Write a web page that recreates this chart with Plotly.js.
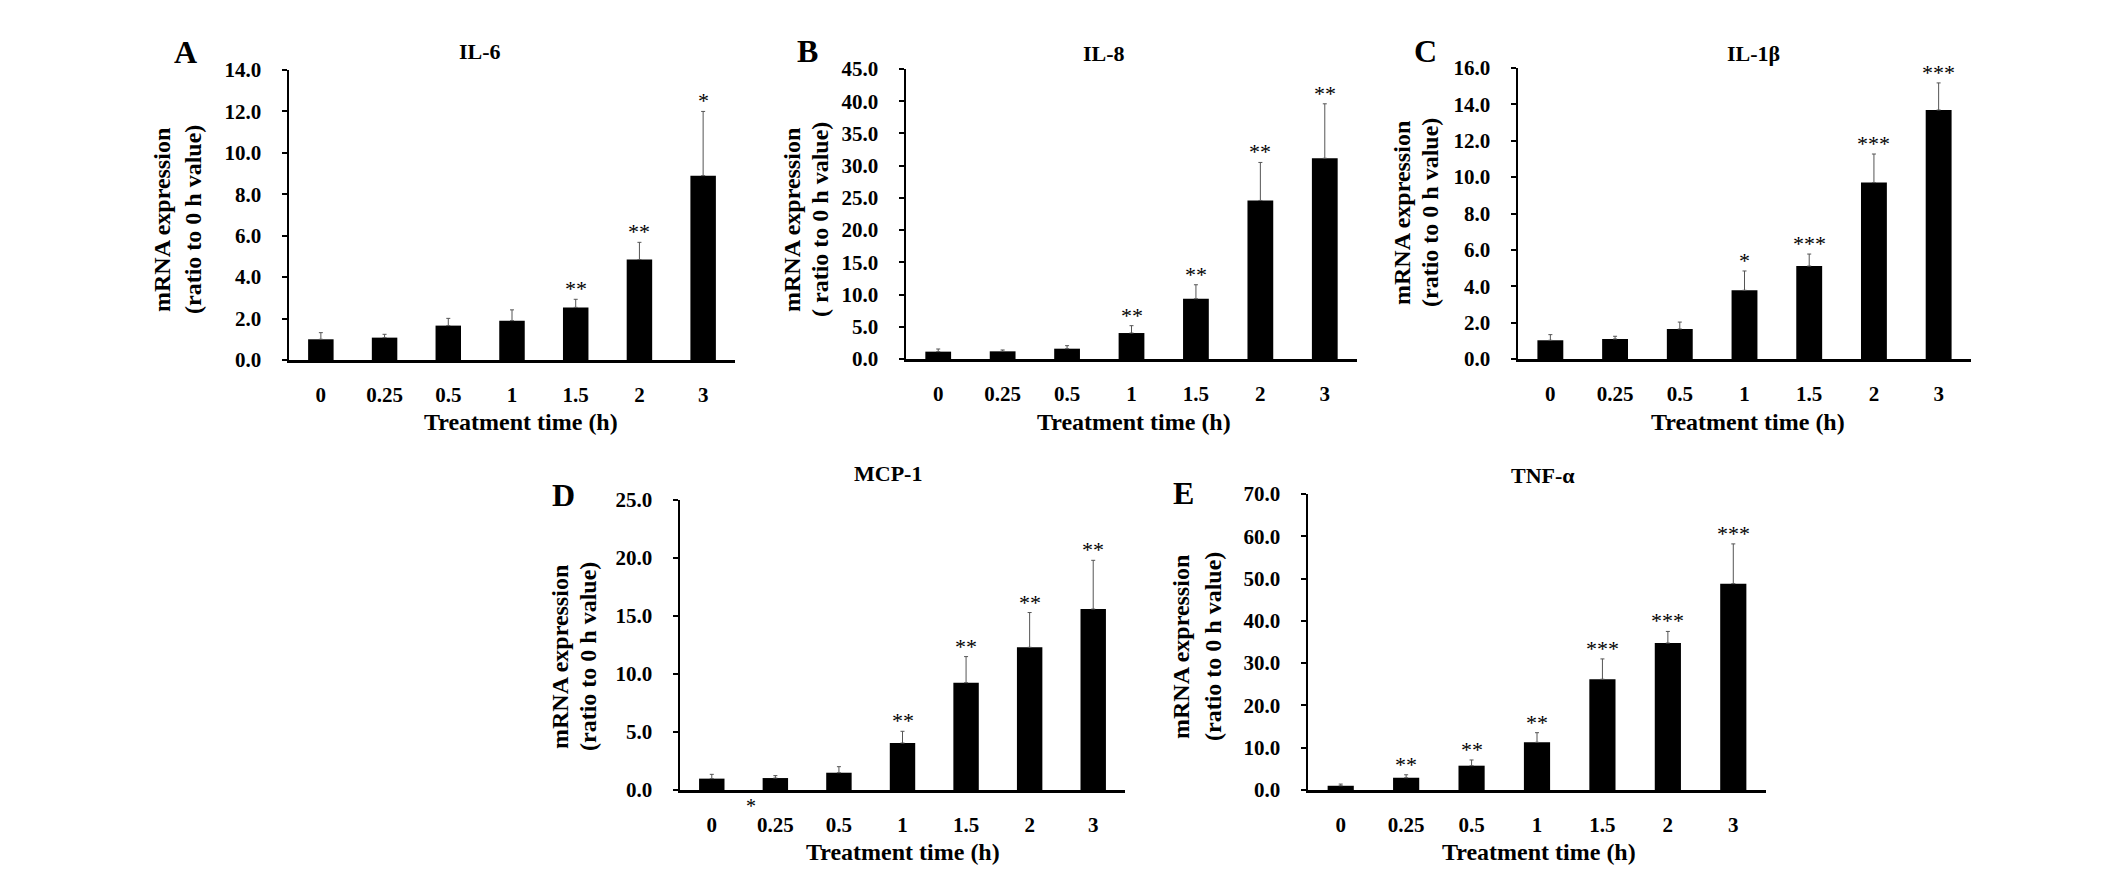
<!DOCTYPE html>
<html>
<head>
<meta charset="utf-8">
<script src="https://cdn.plot.ly/plotly-3.0.1.min.js"></script>
<style>html,body{margin:0;padding:0;background:#fff;}#chart{width:2126px;height:877px;}</style>
</head>
<body>
<div id="chart"></div>
<script>
// ---- data ----
const times = ['0', '0.25', '0.5', '1', '1.5', '2', '3'];

const il6Mean  = [1.00, 1.08, 1.66, 1.90, 2.54, 4.85, 8.90];
const il6Err   = [0.32, 0.16, 0.35, 0.52, 0.39, 0.83, 3.10];
const il6Sig   = ['', '', '', '', '**', '**', '*'];

const il8Mean  = [1.14, 1.19, 1.60, 4.03, 9.35, 24.60, 31.15];
const il8Err   = [0.41, 0.21, 0.47, 1.14, 2.17, 5.90, 8.45];
const il8Sig   = ['', '', '', '**', '**', '**', '**'];

const il1bMean = [1.03, 1.10, 1.65, 3.78, 5.11, 9.70, 13.69];
const il1bErr  = [0.31, 0.15, 0.38, 1.06, 0.66, 1.57, 1.49];
const il1bSig  = ['', '', '', '*', '***', '***', '***'];

const mcp1Mean = [0.98, 1.03, 1.49, 4.05, 9.25, 12.30, 15.60];
const mcp1Err  = [0.37, 0.21, 0.52, 1.01, 2.25, 3.00, 4.20];
const mcp1Sig  = ['', '', '', '**', '**', '**', '**'];

const tnfaMean = [1.00, 2.90, 5.75, 11.27, 26.20, 34.75, 48.80];
const tnfaErr  = [0.40, 0.70, 1.35, 2.28, 4.80, 2.75, 9.40];
const tnfaSig  = ['', '**', '**', '**', '***', '***', '***'];

const panelTitles = ['IL-6', 'IL-8', 'IL-1β', 'MCP-1', 'TNF-α'];
const panelLetters = ['A', 'B', 'C', 'D', 'E'];
const yMax = [14, 45, 16, 25, 70];
const yStep = [2, 5, 2, 5, 10];
const yTitleLine1 = 'mRNA expression';
const yTitleLine2 = ['(ratio to 0 h value)', '( ratio to 0 h value)', '(ratio to 0 h value)', '(ratio to 0 h value)', '(ratio to 0 h value)'];
const xTitle = 'Treatment time (h)';

// ---- layout geometry (pixels) ----
const W = 2126, H = 877;
const px = x => x / W;
const py = y => 1 - y / H;
const boxes = [
  {x0: 289, x1: 735, y0: 70, y1: 360, letter: [185, 52], title: [480, 52], yt1: 162, yt2: 193, ytY: 220, xtitle: [521, 422]},
  {x0: 906, x1: 1357, y0: 69, y1: 359, letter: [807, 51], title: [1104, 53], yt1: 792, yt2: 820, ytY: 220, xtitle: [1134, 422]},
  {x0: 1518, x1: 1971, y0: 68, y1: 359, letter: [1425, 51], title: [1753, 53], yt1: 1402, yt2: 1430, ytY: 213, xtitle: [1748, 422]},
  {x0: 680, x1: 1125, y0: 500, y1: 790, letter: [563, 495], title: [888, 473], yt1: 560, yt2: 588, ytY: 657, xtitle: [903, 852]},
  {x0: 1308, x1: 1766, y0: 494, y1: 790, letter: [1183, 493], title: [1543, 475], yt1: 1181, yt2: 1213, ytY: 647, xtitle: [1539, 852]}
];
const means = [il6Mean, il8Mean, il1bMean, mcp1Mean, tnfaMean];
const errs = [il6Err, il8Err, il1bErr, mcp1Err, tnfaErr];
const sigs = [il6Sig, il8Sig, il1bSig, mcp1Sig, tnfaSig];

const FONT = 'Liberation Serif, Times New Roman, serif';
const traces = [];
const layout = {
  width: W, height: H,
  margin: {l: 0, r: 0, t: 0, b: 0},
  paper_bgcolor: '#fff', plot_bgcolor: '#fff',
  showlegend: false,
  font: {family: FONT, color: '#000'},
  annotations: []
};

function paperText(x, y, text, size, bold, angle) {
  layout.annotations.push({xref: 'paper', yref: 'paper', x: px(x), y: py(y),
    text: text, showarrow: false, xanchor: 'center', yanchor: 'middle', textangle: angle || 0,
    font: {family: FONT, size: size, weight: bold ? 700 : 400, color: '#000'}});
}

for (let i = 0; i < 5; i++) {
  const n = i === 0 ? '' : String(i + 1);
  const b = boxes[i];
  traces.push({
    type: 'bar', x: times, y: means[i],
    xaxis: 'x' + n, yaxis: 'y' + n,
    width: 0.4,
    marker: {color: '#000', line: {width: 0}},
    error_y: {type: 'data', symmetric: false, array: errs[i], arrayminus: times.map(() => 0),
              color: '#555', thickness: 1, width: 2},
    hoverinfo: 'skip'
  });
  layout['xaxis' + n] = {
    domain: [px(b.x0), px(b.x1)], anchor: 'y' + n,
    type: 'category', range: [-0.5, 6.5],
    showline: true, linecolor: '#000', linewidth: 2.5,
    ticks: '', showgrid: false, zeroline: false,
    tickfont: {family: FONT, size: 21, weight: 700, color: '#000'},
    ticklabelstandoff: 14, fixedrange: true
  };
  layout['yaxis' + n] = {
    domain: [py(b.y1), py(b.y0)], anchor: 'x' + n,
    range: [0, yMax[i]], dtick: yStep[i], tick0: 0, tickformat: '.1f',
    showline: true, linecolor: '#000', linewidth: 2.5,
    ticks: 'outside', ticklen: 5, tickwidth: 2, tickcolor: '#000',
    showgrid: false, zeroline: false,
    tickfont: {family: FONT, size: 21, weight: 700, color: '#000'},
    ticklabelstandoff: 16, fixedrange: true
  };
  // significance stars (x given as category index)
  for (let k = 0; k < times.length; k++) {
    if (!sigs[i][k]) continue;
    layout.annotations.push({
      xref: 'x' + n, yref: 'y' + n, x: k, y: means[i][k] + errs[i][k],
      text: sigs[i][k], showarrow: false, xanchor: 'center', yanchor: 'bottom', yshift: -4,
      font: {family: FONT, size: 22, color: '#000'}
    });
  }
  paperText(b.letter[0], b.letter[1], panelLetters[i], 32, true);
  paperText(b.title[0], b.title[1], panelTitles[i], 22, true);
  paperText(b.yt1, b.ytY, yTitleLine1, 24, true, -90);
  paperText(b.yt2, b.ytY, yTitleLine2[i], 24, true, -90);
  paperText(b.xtitle[0], b.xtitle[1], xTitle, 24, true);
}
// stray asterisk next to the 0.25 tick label in panel D
paperText(751, 806, '*', 20, false);

Plotly.newPlot('chart', traces, layout, {staticPlot: true, displayModeBar: false});
</script>
</body>
</html>
